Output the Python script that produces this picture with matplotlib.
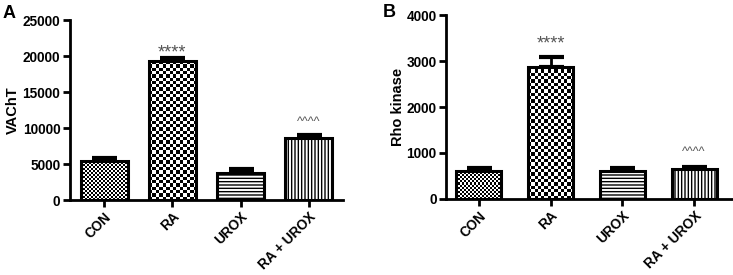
import numpy as np
import matplotlib
matplotlib.use("Agg")
import matplotlib.pyplot as plt

groups = ["CON", "RA", "UROX", "RA + UROX"]

vacht_mean = [5450, 19300, 3800, 8560]
vacht_err = [400, 400, 450, 450]
vacht_marks = ["", "****", "", "^^^^"]
vacht_mark_y = [0, 20400, 0, 10800]

rho_mean = [615, 2870, 609, 659]
rho_err = [65, 220, 65, 45]
rho_marks = ["", "****", "", "^^^^"]
rho_mark_y = [0, 3380, 0, 1020]

plt.rcParams['font.family'] = ['Liberation Sans', 'DejaVu Sans']
plt.rcParams['hatch.linewidth'] = 1.0


def checker_fill(ax, bar, square_px, zorder=2):
    # fill a bar patch with a black/white checkerboard image
    x0, y0 = bar.get_x(), bar.get_y()
    x1, y1 = x0 + bar.get_width(), y0 + bar.get_height()
    p0 = ax.transData.transform((x0, y0))
    p1 = ax.transData.transform((x1, y1))
    nx = max(1, int(round(abs(p1[0] - p0[0]) / square_px)))
    ny = max(1, int(round(abs(p1[1] - p0[1]) / square_px)))
    board = (np.add.outer(np.arange(ny), np.arange(nx)) % 2).astype(float)
    ax.imshow(board, cmap="gray", extent=(x0, x1, y0, y1), aspect="auto",
              interpolation="nearest", zorder=zorder, origin="lower")


def panel(ax, means, errs, marks, mark_y, ylim, yticks, ylabel, label_x,
          xlim, width, letter, letter_pos):
    x = np.arange(len(groups))
    ax.set_xlim(*xlim)
    ax.set_ylim(*ylim)
    ax.errorbar(x, means, yerr=[np.zeros(len(errs)), errs], fmt="none",
                ecolor="black", elinewidth=2, capsize=9, capthick=3, zorder=1)
    hatches = [None, None, "-----", "|||||"]
    bars = ax.bar(x, means, width=width, facecolor="white", edgecolor="black",
                  linewidth=2.2, zorder=3)
    for b, h in zip(bars, hatches):
        if h:
            b.set_hatch(h)
    # checkered fills for the first two bars
    checker_fill(ax, bars[0], 2.0)
    checker_fill(ax, bars[1], 3.3)
    bars[0].set_facecolor("none")
    bars[1].set_facecolor("none")

    for xi, m, my in zip(x, marks, mark_y):
        if m:
            ax.text(xi, my, m, ha="center", va="center",
                    fontsize=13 if m.startswith("*") else 9,
                    color="#555555")

    ax.set_xticks(x)
    ax.set_xticklabels(groups, rotation=45, ha="right", rotation_mode="anchor",
                       fontsize=9.8, fontweight="bold")
    ax.set_yticks(yticks)
    ax.set_yticklabels([str(t) for t in yticks], fontsize=9.8, fontweight="bold")
    ax.set_ylabel(ylabel, fontsize=10.5, fontweight="bold")
    ax.yaxis.set_label_coords(label_x, 0.5)
    ax.spines["top"].set_visible(False)
    ax.spines["right"].set_visible(False)
    ax.spines["left"].set_linewidth(2)
    ax.spines["bottom"].set_linewidth(2)
    ax.tick_params(axis="both", width=2, length=5, direction="out", pad=2)
    ax.figure.text(letter_pos[0], letter_pos[1], letter, fontsize=13,
                   fontweight="bold", ha="left", va="center")


fig = plt.figure(figsize=(7.33, 2.75), dpi=100)
ax1 = fig.add_axes([0.0955, 0.2727, 0.3725, 0.6545])
ax2 = fig.add_axes([0.609, 0.2764, 0.389, 0.669])

panel(ax1, vacht_mean, vacht_err, vacht_marks, vacht_mark_y, (0, 25000),
      [0, 5000, 10000, 15000, 20000, 25000], "VAChT", -0.185, (-0.5, 3.5), 0.69,
      "A", (0.004, 0.95))
panel(ax2, rho_mean, rho_err, rho_marks, rho_mark_y, (0, 4000),
      [0, 1000, 2000, 3000, 4000], "Rho kinase", -0.145, (-0.45, 3.52), 0.63,
      "B", (0.522, 0.955))

fig.savefig("out.png", dpi=100)
